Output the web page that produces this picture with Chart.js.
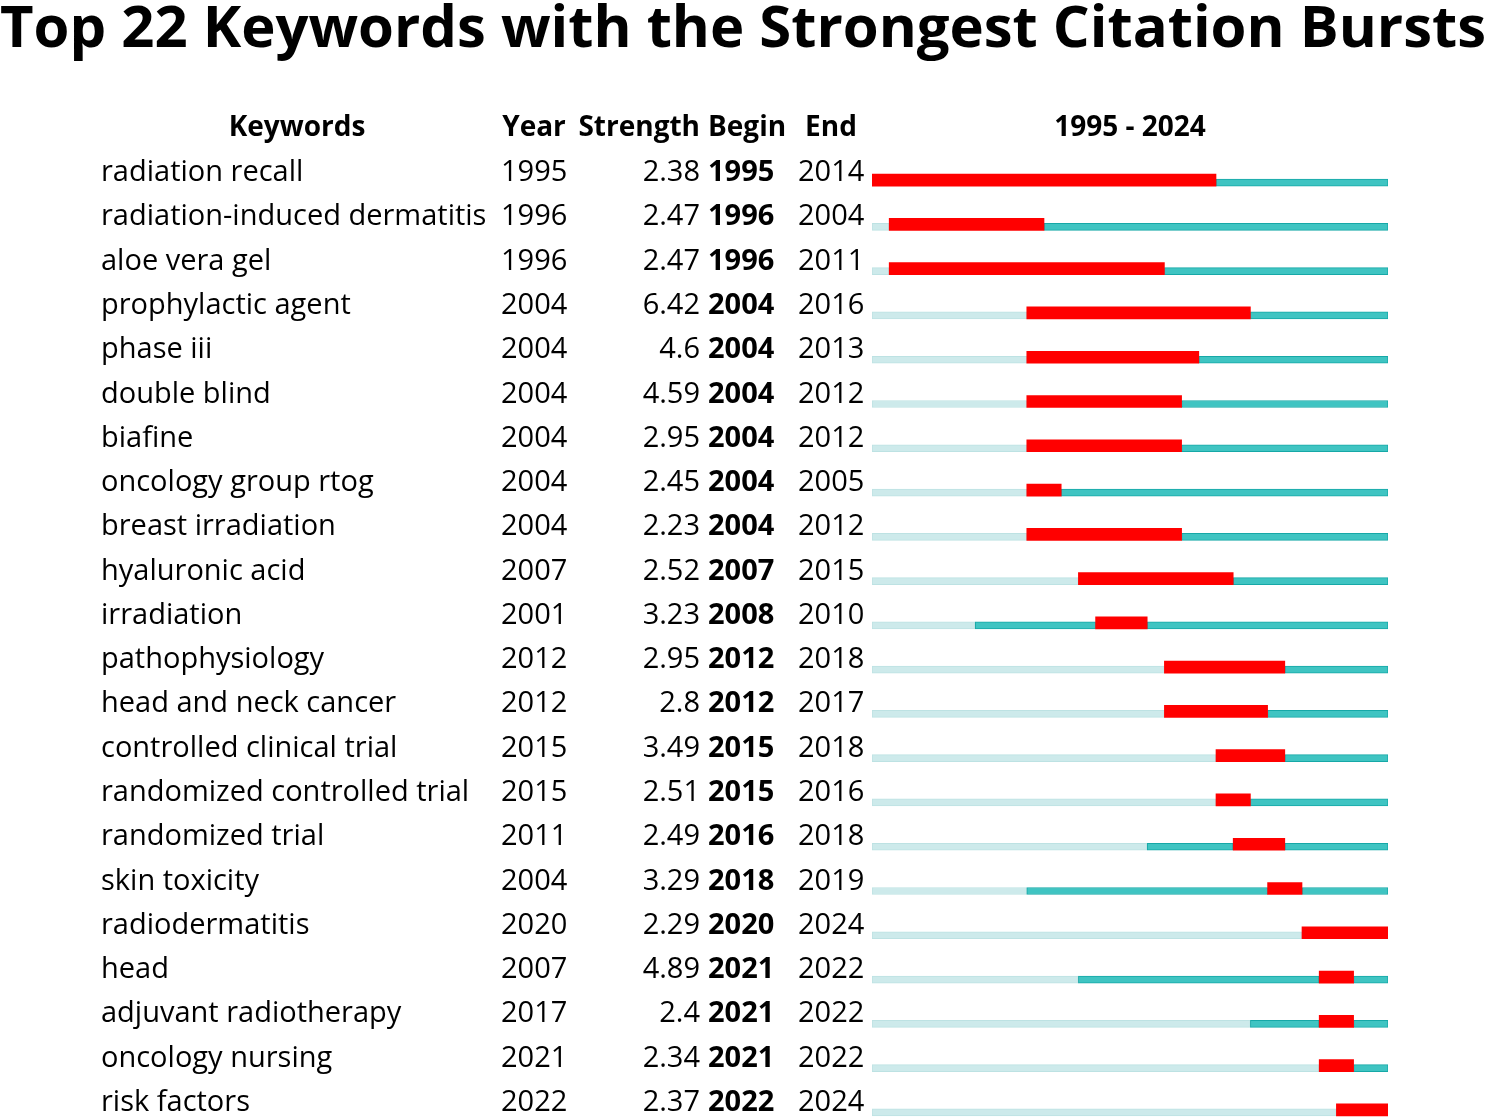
<!DOCTYPE html>
<html>
<head>
<meta charset="utf-8">
<title>Top 22 Keywords with the Strongest Citation Bursts</title>
<script src="https://cdn.jsdelivr.net/npm/chart.js@4.4.1/dist/chart.umd.min.js"></script>
<style>
  html, body { margin: 0; padding: 0; background: #fff; overflow: hidden; }
  #wrap { width: 1488px; height: 1133px; }
</style>
</head>
<body>
<div id="wrap"><canvas id="burstChart" width="1488" height="1133"></canvas></div>
<script>
const keywords = [
  "radiation recall", "radiation-induced dermatitis", "aloe vera gel", "prophylactic agent",
  "phase iii", "double blind", "biafine", "oncology group rtog", "breast irradiation",
  "hyaluronic acid", "irradiation", "pathophysiology", "head and neck cancer",
  "controlled clinical trial", "randomized controlled trial", "randomized trial",
  "skin toxicity", "radiodermatitis", "head", "adjuvant radiotherapy", "oncology nursing",
  "risk factors"
];
const years =     [1995, 1996, 1996, 2004, 2004, 2004, 2004, 2004, 2004, 2007, 2001, 2012, 2012, 2015, 2015, 2011, 2004, 2020, 2007, 2017, 2021, 2022];
const strengths = ["2.38", "2.47", "2.47", "6.42", "4.6", "4.59", "2.95", "2.45", "2.23", "2.52", "3.23", "2.95", "2.8", "3.49", "2.51", "2.49", "3.29", "2.29", "4.89", "2.4", "2.34", "2.37"];
const begins =    [1995, 1996, 1996, 2004, 2004, 2004, 2004, 2004, 2004, 2007, 2008, 2012, 2012, 2015, 2015, 2016, 2018, 2020, 2021, 2021, 2021, 2022];
const ends =      [2014, 2004, 2011, 2016, 2013, 2012, 2012, 2005, 2012, 2015, 2010, 2018, 2017, 2018, 2016, 2018, 2019, 2024, 2022, 2022, 2022, 2024];
const firstYear = 1995;
const lastYear = 2024;

const titleText = "Top 22 Keywords with the Strongest Citation Bursts";
const FONT = '"Open Sans", "Noto Sans", sans-serif';
const TXT = 29;

// segments: before the keyword appears, quiet, burst, quiet again
const lightSeg = years.map(y => y > firstYear ? [firstYear, y] : null);
const preSeg = years.map((y, i) => begins[i] > y ? [y, begins[i]] : null);
const burstSeg = begins.map((b, i) => [b, ends[i] + 1]);
const postSeg = ends.map(e => e + 1 <= lastYear ? [e + 1, lastYear + 1] : null);

// thin bars sit on the bottom edge of the red one
const alignBottom = {
  id: "alignBottom",
  afterDatasetsUpdate(chart) {
    const full = chart.data.datasets[0].barThickness;
    chart.data.datasets.forEach((ds, di) => {
      const shift = (full - ds.barThickness) / 2;
      if (!shift) return;
      chart.getDatasetMeta(di).data.forEach(el => { el.y += shift; });
    });
  }
};

// title, column headers and text columns
const tableText = {
  id: "tableText",
  afterDraw(chart) {
    const ctx = chart.ctx;
    const yScale = chart.scales.y;
    ctx.save();
    ctx.fillStyle = "#000";
    ctx.textBaseline = "alphabetic";

    // title stretched across the full width
    ctx.font = "bold 60px " + FONT;
    const w = ctx.measureText(titleText).width;
    const size = 60 * 1486 / w;
    ctx.font = "bold " + size.toFixed(1) + "px " + FONT;
    ctx.textAlign = "left";
    ctx.fillText(titleText, 0, 47);

    // headers
    ctx.font = "bold 28px " + FONT;
    const hy = 136;
    ctx.textAlign = "center";
    ctx.fillText("Keywords", 297, hy);
    ctx.fillText("Year", 534, hy);
    ctx.textAlign = "right";
    ctx.fillText("Strength", 700, hy);
    ctx.textAlign = "left";
    ctx.fillText("Begin", 708, hy);
    ctx.textAlign = "center";
    ctx.fillText("End", 831, hy);
    ctx.fillText(firstYear + " - " + lastYear, (chart.chartArea.left + chart.chartArea.right) / 2, hy);

    // rows
    keywords.forEach((k, i) => {
      const y = yScale.getPixelForValue(i) + 1;
      ctx.font = TXT + "px " + FONT;
      ctx.textAlign = "left";
      ctx.fillText(k, 101, y);
      ctx.fillText(String(years[i]), 501, y);
      ctx.textAlign = "right";
      ctx.fillText(strengths[i], 700, y);
      ctx.textAlign = "left";
      ctx.fillText(String(ends[i]), 798, y);
      ctx.font = "bold " + TXT + "px " + FONT;
      ctx.fillText(String(begins[i]), 708, y);
    });
    ctx.restore();
  }
};

new Chart(document.getElementById("burstChart"), {
  type: "bar",
  data: {
    labels: keywords,
    datasets: [
      { label: "Burst", data: burstSeg, backgroundColor: "#ff0000", borderColor: "#ff1a1a", borderWidth: 0, barThickness: 12 },
      { label: "Active", data: preSeg, backgroundColor: "#3fc4c2", borderColor: "#16a8a7", borderWidth: 1, barThickness: 7 },
      { label: "Active after", data: postSeg, backgroundColor: "#3fc4c2", borderColor: "#16a8a7", borderWidth: 1, barThickness: 7 },
      { label: "Not yet", data: lightSeg, backgroundColor: "#cdeaeb", borderColor: "#bde2e3", borderWidth: 1, barThickness: 7 }
    ]
  },
  options: {
    indexAxis: "y",
    responsive: false,
    animation: false,
    devicePixelRatio: 1,
    layout: { padding: { left: 872, right: 100, top: 158, bottom: 1 } },
    datasets: { bar: { grouped: false, borderSkipped: false } },
    scales: {
      x: { type: "linear", min: firstYear, max: lastYear + 1, display: false },
      y: { type: "category", display: false, offset: true }
    },
    plugins: {
      legend: { display: false },
      title: { display: false },
      tooltip: { enabled: false }
    }
  },
  plugins: [alignBottom, tableText]
});
</script>
</body>
</html>
